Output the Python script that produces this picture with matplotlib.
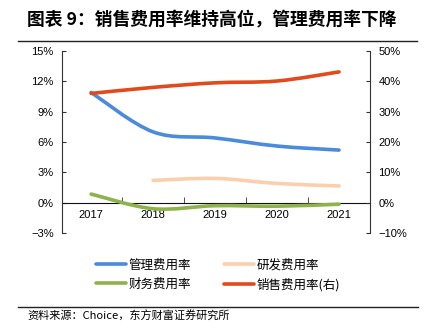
import matplotlib
matplotlib.use("Agg")
import matplotlib.pyplot as plt
from matplotlib.path import Path
from matplotlib.patches import PathPatch
from matplotlib.lines import Line2D
import numpy as np

plt.rcParams['font.family'] = ['Noto Sans CJK SC', 'DejaVu Sans']

years = ['2017', '2018', '2019', '2020', '2021']
mgmt = [10.9, 7.0, 6.4, 5.6, 5.2]          # 管理费用率 (left, %)
rnd = [None, 2.2, 2.4, 1.9, 1.65]          # 研发费用率 (left, %)
fin = [0.85, -0.6, -0.3, -0.35, -0.15]     # 财务费用率 (left, %)
sales = [36.0, 38.0, 39.5, 40.1, 43.1]     # 销售费用率 (right, %)

left_ticks = [-3, 0, 3, 6, 9, 12, 15]
right_ticks = [-10, 0, 10, 20, 30, 40, 50]

title = '图表 9：销售费用率维持高位，管理费用率下降'
source = '资料来源：Choice，东方财富证券研究所'
names = ['管理费用率', '研发费用率', '财务费用率', '销售费用率(右)']
colors = ['#4A8BDB', '#FBCFAE', '#8DB34A', '#E2491B']


def smooth_path(xs, ys, t=0.5 / 3):
    pts = [(x, y) for x, y in zip(xs, ys) if y is not None]
    verts = [pts[0]]
    codes = [Path.MOVETO]
    n = len(pts)
    for i in range(n - 1):
        p0 = pts[i - 1] if i > 0 else pts[i]
        p1 = pts[i]
        p2 = pts[i + 1]
        p3 = pts[i + 2] if i + 2 < n else pts[i + 1]
        c1 = (p1[0] + (p2[0] - p0[0]) * t, p1[1] + (p2[1] - p0[1]) * t)
        c2 = (p2[0] - (p3[0] - p1[0]) * t, p2[1] - (p3[1] - p1[1]) * t)
        verts += [c1, c2, p2]
        codes += [Path.CURVE4] * 3
    return Path(verts, codes)


fig = plt.figure(figsize=(4.33, 3.28), dpi=100)
ax = fig.add_axes([0.1432, 0.2896, 0.7113, 0.555])
ax2 = ax.twinx()

x = np.arange(len(years))
for vals, c in [(mgmt, colors[0]), (rnd, colors[1]), (fin, colors[2])]:
    ax.add_patch(PathPatch(smooth_path(x, vals), fill=False, edgecolor=c,
                           lw=2.6, capstyle='round', joinstyle='round', zorder=3))
ax2.add_patch(PathPatch(smooth_path(x, sales), fill=False, edgecolor=colors[3],
                        lw=2.6, capstyle='round', joinstyle='round', zorder=3))

ax.set_xlim(-0.47, 4.5)
ax.set_ylim(-3, 15)
ax2.set_ylim(-10, 50)
ax.set_yticks(left_ticks)
ax.set_yticklabels([f'{v}%' if v >= 0 else f'\u2212{-v}%' for v in left_ticks])
ax2.set_yticks(right_ticks)
ax2.set_yticklabels([f'{v}%' if v >= 0 else f'\u2212{-v}%' for v in right_ticks])

ax.set_xticks(x)
ax.set_xticklabels(years)
ax.set_xticks(x[:-1] + 0.5, minor=True)
ax.tick_params(axis='x', which='major', length=0, pad=5, labelsize=8,
               labelfontfamily='Liberation Sans')
ax.tick_params(axis='x', which='minor', length=4, direction='in', color='#333333')
ax.tick_params(axis='y', direction='in', length=3, labelsize=8, pad=6, color='#333333',
               labelfontfamily='Liberation Sans')
ax2.tick_params(axis='y', direction='in', length=3, labelsize=8, pad=6, color='#333333',
                labelfontfamily='Liberation Sans')

for a in (ax, ax2):
    a.spines['top'].set_visible(False)
    a.spines['bottom'].set_visible(False)
    a.spines['left'].set_color('#333333')
    a.spines['right'].set_color('#333333')
ax.spines['right'].set_visible(False)
ax2.spines['left'].set_visible(False)
ax.spines['bottom'].set_visible(True)
ax.spines['bottom'].set_position(('data', 0))
ax.spines['bottom'].set_color('#111111')
ax.spines['bottom'].set_zorder(2)

order = [0, 2, 1, 3]
handles = [Line2D([0], [0], color=colors[i], lw=2.6, solid_capstyle='round') for i in order]
fig.legend(handles, [names[i] for i in order], loc='upper left',
           bbox_to_anchor=(0.195, 0.246), ncol=2,
           frameon=False, fontsize=9, handlelength=2.4, handletextpad=0.25,
           columnspacing=2.6, labelspacing=0.5)

fig.text(27 / 433, 1 - 20 / 328, title, fontsize=12.8, fontweight='bold',
         va='center', ha='left')
fig.add_artist(Line2D([18 / 433, 417 / 433], [1 - 41 / 328, 1 - 41 / 328],
                      color='#222222', lw=1.0))
fig.add_artist(Line2D([18 / 433, 418 / 433], [1 - 307 / 328, 1 - 307 / 328],
                      color='#222222', lw=1.0))
fig.text(27 / 433, 1 - 316 / 328, source, fontsize=8, va='center', ha='left')

fig.savefig('out.png', dpi=100)
